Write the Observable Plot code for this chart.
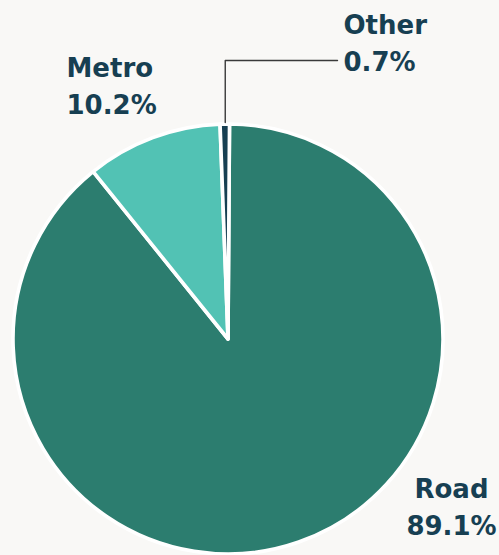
<!DOCTYPE html>
<html><head><meta charset="utf-8">
<script src="https://cdn.jsdelivr.net/npm/d3@7"></script>
<script src="https://cdn.jsdelivr.net/npm/@observablehq/plot@0.6"></script>
<style>html,body{margin:0;padding:0;background:#f9f8f6;}</style>
</head><body><div id="chart"></div>
<script>
// data
const categories = ["Road", "Metro", "Other"];
const shares = [89.1, 10.2, 0.7];
const shareLabels = ["89.1%", "10.2%", "0.7%"];
const sliceColors = ["#2c7d6f", "#52c2b4", "#173f52"];

// layout (not data)
const W = 499, H = 555;
const CX = 228, CY = 339, R = 215;
const START = 0.4 * Math.PI / 180;
const labelPos = {
  Road:  {x: 451, y: 497, anchor: "middle"},
  Metro: {x: 66,  y: 76,  anchor: "start"},
  Other: {x: 343, y: 33,  anchor: "start"}
};
const LINE_GAP = 37;

const table = categories.map((c, i) => ({category: c, share: shares[i], label: shareLabels[i]}));
const color = d3.scaleOrdinal(categories, sliceColors);
const arcs = d3.pie().value(d => d.share).sort(null)
  .startAngle(START).endAngle(START + 2 * Math.PI)(table);

function pieMark(index, scales) {
  const g = d3.create("svg:g")
    .attr("transform", `translate(${scales.x(CX)},${scales.y(CY)})`);
  const arc = d3.arc().innerRadius(0).outerRadius(R);
  g.selectAll("path").data(arcs).join("path")
    .attr("d", arc)
    .attr("fill", d => color(d.data.category))
    .attr("stroke", "#ffffff")
    .attr("stroke-width", 3.6)
    .attr("stroke-linejoin", "round");
  return g.node();
}

// leader line from the "Other" slice
const other = arcs.find(a => a.data.category === "Other");
const mid = (other.startAngle + other.endAngle) / 2;
const lx = CX + (R + 2) * Math.sin(mid);
const ly = CY - (R + 2) * Math.cos(mid);
const leader = [[lx, ly], [lx, 60], [337, 60]];

const nameRows = table.map(d => ({text: d.category, x: labelPos[d.category].x, y: labelPos[d.category].y, anchor: labelPos[d.category].anchor}));
const pctRows = table.map(d => ({text: d.label, x: labelPos[d.category].x, y: labelPos[d.category].y + LINE_GAP, anchor: labelPos[d.category].anchor}));
const rows = nameRows.concat(pctRows);

const fs = 26;
const chart = Plot.plot({
  width: W, height: H,
  margin: 0,
  x: {type: "identity", axis: null},
  y: {type: "identity", axis: null},
  style: {background: "#f9f8f6", overflow: "visible"},
  marks: [
    pieMark,
    Plot.line(leader, {x: d => d[0], y: d => d[1], stroke: "#3a3a3a", strokeWidth: 1.4}),
    ...["start", "middle"].map(a => Plot.text(rows.filter(r => r.anchor === a), {
      x: "x", y: d => d.y - 0.32 * fs, text: "text", textAnchor: a,
      fill: "#173f52", fontSize: fs, fontWeight: "bold",
      fontFamily: "DejaVu Sans, sans-serif"
    }))
  ]
});
document.getElementById("chart").appendChild(chart);
</script></body></html>
